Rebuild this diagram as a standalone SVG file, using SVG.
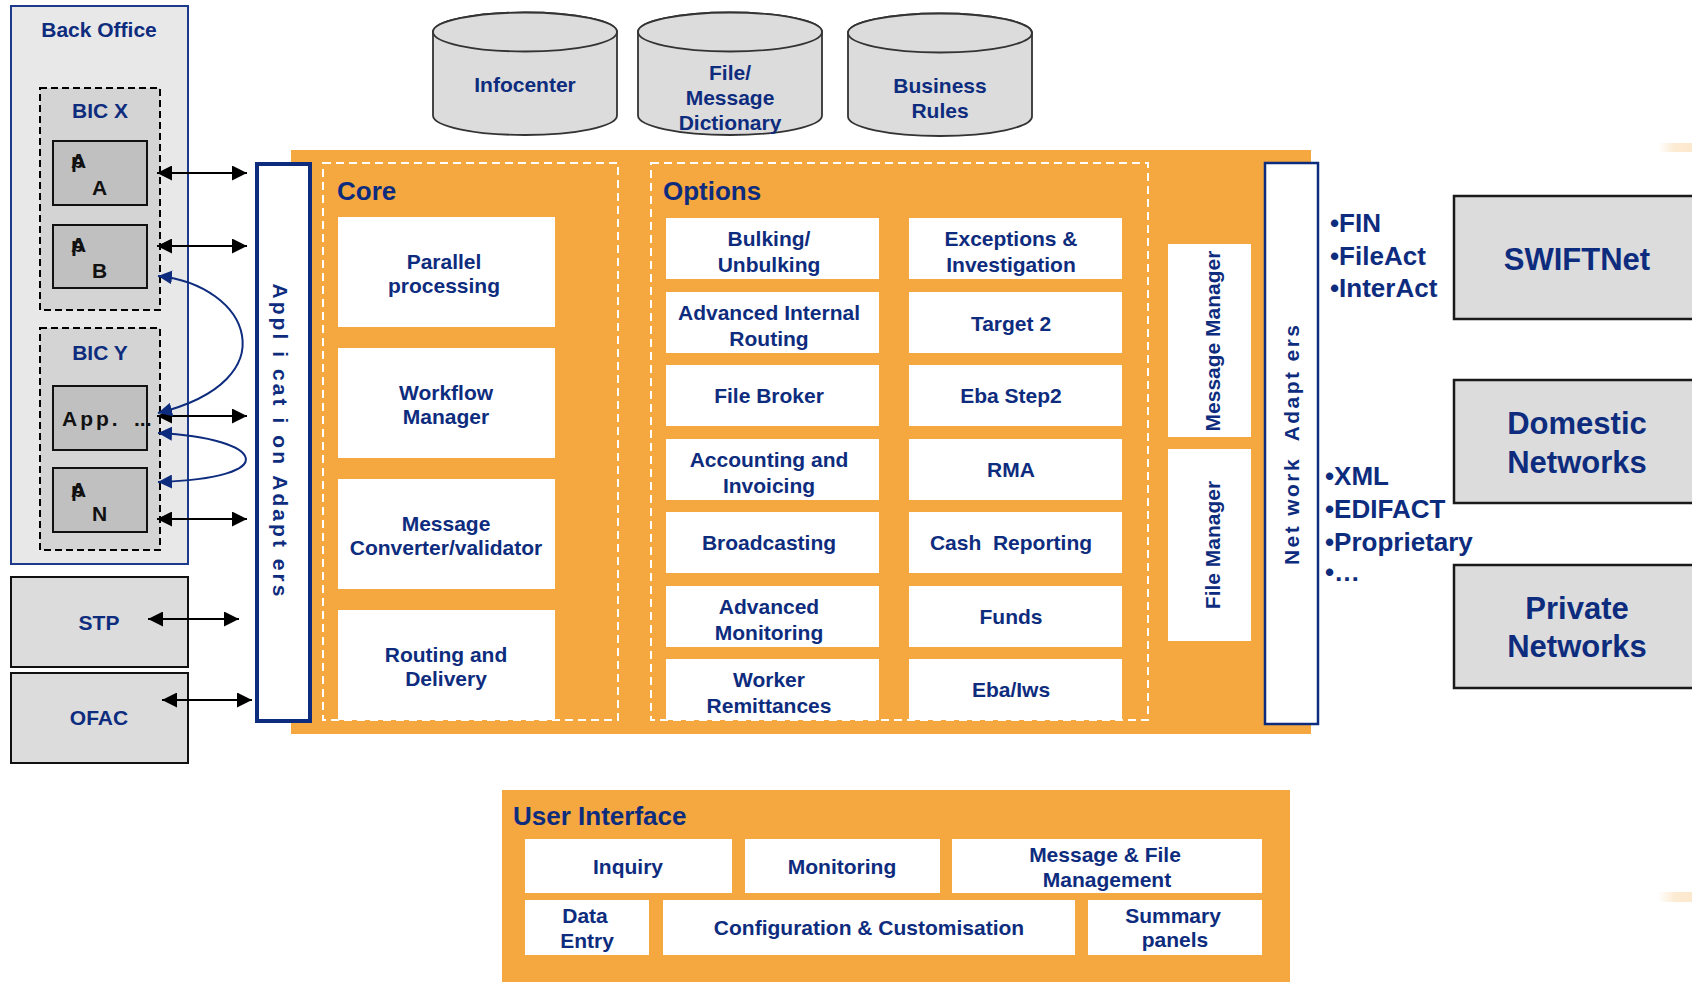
<svg xmlns="http://www.w3.org/2000/svg" width="1692" height="982" viewBox="0 0 1692 982">
<defs>
<style>
text{font-family:"Liberation Sans",Arial,sans-serif;font-weight:bold}
.n{fill:#0e2c7e;font-size:21px;text-anchor:middle}
.h{fill:#0e2c7e;font-size:26px}
.bl{fill:#0e2c7e;font-size:26px}
.big{fill:#0e2c7e;font-size:31px;text-anchor:middle}
.k{fill:#111;font-size:21px}
.w{fill:#fff}
.orange{fill:#f5a83f}
.net{fill:#dcdcdc;stroke:#1a1a1a;stroke-width:2.5}
.cyl{fill:#dcdcdc;stroke:#333;stroke-width:1.8}
.app{fill:#c0c0c0;stroke:#111;stroke-width:2}
.bic{fill:#d4d4d4;stroke:#000;stroke-width:2;stroke-dasharray:7 4}
.dash{fill:none;stroke:#fff;stroke-width:2;stroke-dasharray:8 5}
.arr{stroke:#000;stroke-width:2;fill:none;marker-start:url(#ah);marker-end:url(#ah)}
.barr{stroke:#0e2c7e;stroke-width:2;fill:none;marker-start:url(#bh);marker-end:url(#bh)}
</style>
<linearGradient id="glow" x1="0" y1="0" x2="1" y2="0">
<stop offset="0" stop-color="#fbe2c0" stop-opacity="0"/>
<stop offset="0.5" stop-color="#fbe2c0" stop-opacity="0.7"/>
<stop offset="1" stop-color="#fbe2c0" stop-opacity="0.8"/>
</linearGradient>
<marker id="ah" viewBox="0 0 10 10" refX="10" refY="5" markerWidth="15" markerHeight="15" markerUnits="userSpaceOnUse" orient="auto-start-reverse"><path d="M0,0 L10,5 L0,10 z" fill="#000"/></marker>
<marker id="bh" viewBox="0 0 10 10" refX="10" refY="5" markerWidth="14" markerHeight="14" markerUnits="userSpaceOnUse" orient="auto-start-reverse"><path d="M0,0 L10,5 L0,10 z" fill="#0e2c7e"/></marker>
</defs>
<rect width="1692" height="982" fill="#fff"/>
<rect x="1658" y="143" width="34" height="9" fill="url(#glow)"/>
<rect x="1658" y="892" width="34" height="10" fill="url(#glow)"/>

<!-- Databases -->
<g id="infocenter">
<path class="cyl" d="M433,32 V115.5 A92,19.5 0 0 0 617,115.5 V32 A92,19.5 0 0 0 433,32 z"/>
<ellipse class="cyl" cx="525" cy="32" rx="92" ry="19.5"/>
<text class="n" x="525" y="92">Infocenter</text>
</g>
<g id="dictionary">
<path class="cyl" d="M638,32 V115.5 A92,19.5 0 0 0 822,115.5 V32 A92,19.5 0 0 0 638,32 z"/>
<ellipse class="cyl" cx="730" cy="32" rx="92" ry="19.5"/>
<text class="n" x="730" y="80">File/</text>
<text class="n" x="730" y="105">Message</text>
<text class="n" x="730" y="130">Dictionary</text>
</g>
<g id="business-rules">
<path class="cyl" d="M848,33 V116.5 A92,19.5 0 0 0 1032,116.5 V33 A92,19.5 0 0 0 848,33 z"/>
<ellipse class="cyl" cx="940" cy="33" rx="92" ry="19.5"/>
<text class="n" x="940" y="93">Business</text>
<text class="n" x="940" y="118">Rules</text>
</g>

<!-- Back office -->
<g id="back-office">
<rect x="11" y="6" width="177" height="558" fill="#e8e8e8" stroke="#1b3a8c" stroke-width="2"/>
<text class="n" x="99" y="37">Back Office</text>
</g>
<g id="bic-x">
<rect class="bic" x="40" y="88" width="120" height="222"/>
<text class="n" x="100" y="118">BIC X</text>
</g>
<g id="app-a">
<rect class="app" x="53" y="141" width="94" height="64"/>
<text class="k" x="71" y="168">p</text><text class="k" x="71" y="168">A</text>
<text class="k" x="92" y="195">A</text>
</g>
<g id="app-b">
<rect class="app" x="53" y="225" width="94" height="63"/>
<text class="k" x="71" y="252">p</text><text class="k" x="71" y="252">A</text>
<text class="k" x="92" y="278">B</text>
</g>
<g id="bic-y">
<rect class="bic" x="40" y="328" width="120" height="222"/>
<text class="n" x="100" y="360">BIC Y</text>
</g>
<g id="app-dots">
<rect class="app" x="53" y="386" width="94" height="64"/>
<text class="k" x="62" y="426" letter-spacing="3">App.</text>
<text class="k" x="134" y="426">...</text>
</g>
<g id="app-n">
<rect class="app" x="53" y="468" width="94" height="64"/>
<text class="k" x="71" y="497">p</text><text class="k" x="71" y="497">A</text>
<text class="k" x="92" y="521">N</text>
</g>
<g id="stp">
<rect x="11" y="577" width="177" height="90" fill="#dcdcdc" stroke="#111" stroke-width="2"/>
<text class="n" x="99" y="630">STP</text>
</g>
<g id="ofac">
<rect x="11" y="673" width="177" height="90" fill="#dcdcdc" stroke="#111" stroke-width="2"/>
<text class="n" x="99" y="725">OFAC</text>
</g>

<!-- Main orange platform -->
<g id="platform">
<rect class="orange" x="291" y="150" width="1020" height="584"/>
</g>
<g id="application-adapters">
<rect x="257" y="164" width="53" height="557" fill="#fff" stroke="#0e2c7e" stroke-width="4"/>
<text class="n" transform="translate(273,440) rotate(90)" x="0" y="0" textLength="313" lengthAdjust="spacing" style="white-space:pre">Appl i cat i on Adapt ers</text>
</g>

<g id="core">
<rect class="dash" x="323" y="163" width="295" height="557"/>
<text class="h" x="337" y="200">Core</text>
<rect class="w" x="338" y="217" width="217" height="110"/>
<text class="n" x="444" y="269">Parallel</text>
<text class="n" x="444" y="293">processing</text>
<rect class="w" x="338" y="348" width="217" height="110"/>
<text class="n" x="446" y="400">Workflow</text>
<text class="n" x="446" y="424">Manager</text>
<rect class="w" x="338" y="479" width="217" height="110"/>
<text class="n" x="446" y="531">Message</text>
<text class="n" x="446" y="555">Converter/validator</text>
<rect class="w" x="338" y="610" width="217" height="110"/>
<text class="n" x="446" y="662">Routing and</text>
<text class="n" x="446" y="686">Delivery</text>
</g>

<g id="options">
<rect class="dash" x="651" y="163" width="497" height="557"/>
<text class="h" x="663" y="200">Options</text>
<g>
<rect class="w" x="666" y="218" width="213" height="61"/>
<text class="n" x="769" y="246">Bulking/</text>
<text class="n" x="769" y="272">Unbulking</text>
<rect class="w" x="666" y="292" width="213" height="61"/>
<text class="n" x="769" y="320">Advanced Internal</text>
<text class="n" x="769" y="346">Routing</text>
<rect class="w" x="666" y="365" width="213" height="61"/>
<text class="n" x="769" y="403">File Broker</text>
<rect class="w" x="666" y="439" width="213" height="61"/>
<text class="n" x="769" y="467">Accounting and</text>
<text class="n" x="769" y="493">Invoicing</text>
<rect class="w" x="666" y="512" width="213" height="61"/>
<text class="n" x="769" y="550">Broadcasting</text>
<rect class="w" x="666" y="586" width="213" height="61"/>
<text class="n" x="769" y="614">Advanced</text>
<text class="n" x="769" y="640">Monitoring</text>
<rect class="w" x="666" y="659" width="213" height="61"/>
<text class="n" x="769" y="687">Worker</text>
<text class="n" x="769" y="713">Remittances</text>
</g>
<g>
<rect class="w" x="909" y="218" width="213" height="61"/>
<text class="n" x="1011" y="246">Exceptions &amp;</text>
<text class="n" x="1011" y="272">Investigation</text>
<rect class="w" x="909" y="292" width="213" height="61"/>
<text class="n" x="1011" y="331">Target 2</text>
<rect class="w" x="909" y="365" width="213" height="61"/>
<text class="n" x="1011" y="403">Eba Step2</text>
<rect class="w" x="909" y="439" width="213" height="61"/>
<text class="n" x="1011" y="477">RMA</text>
<rect class="w" x="909" y="512" width="213" height="61"/>
<text class="n" x="1011" y="550" style="white-space:pre">Cash  Reporting</text>
<rect class="w" x="909" y="586" width="213" height="61"/>
<text class="n" x="1011" y="624">Funds</text>
<rect class="w" x="909" y="659" width="213" height="61"/>
<text class="n" x="1011" y="697">Eba/Iws</text>
</g>
</g>

<g id="message-manager">
<rect class="w" x="1168" y="244" width="83" height="193"/>
<text class="n" transform="translate(1220,341) rotate(-90)" x="0" y="0">Message Manager</text>
</g>
<g id="file-manager">
<rect class="w" x="1168" y="449" width="83" height="192"/>
<text class="n" transform="translate(1220,545) rotate(-90)" x="0" y="0">File Manager</text>
</g>

<g id="network-adapters">
<rect x="1265" y="163" width="53" height="561" fill="#fff" stroke="#0e2c7e" stroke-width="2.5"/>
<text class="n" transform="translate(1299,445) rotate(-90)" x="0" y="0" textLength="240" lengthAdjust="spacing" style="white-space:pre">Net work  Adapt ers</text>
</g>

<g id="protocols-swift">
<text class="bl" x="1330" y="232">•FIN</text>
<text class="bl" x="1330" y="265">•FileAct</text>
<text class="bl" x="1330" y="297">•InterAct</text>
</g>
<g id="protocols-other">
<text class="bl" x="1325" y="485">•XML</text>
<text class="bl" x="1325" y="518">•EDIFACT</text>
<text class="bl" x="1325" y="551">•Proprietary</text>
<text class="bl" x="1325" y="581">•…</text>
</g>

<g id="swiftnet">
<rect class="net" x="1454" y="196" width="260" height="123"/>
<text class="big" x="1577" y="270">SWIFTNet</text>
</g>
<g id="domestic-networks">
<rect class="net" x="1454" y="380" width="260" height="123"/>
<text class="big" x="1577" y="434">Domestic</text>
<text class="big" x="1577" y="473">Networks</text>
</g>
<g id="private-networks">
<rect class="net" x="1454" y="565" width="260" height="123"/>
<text class="big" x="1577" y="619">Private</text>
<text class="big" x="1577" y="657">Networks</text>
</g>

<g id="user-interface">
<rect class="orange" x="502" y="790" width="788" height="200"/>
<text class="h" x="513" y="825">User Interface</text>
<rect class="w" x="525" y="839" width="207" height="54"/>
<text class="n" x="628" y="874">Inquiry</text>
<rect class="w" x="745" y="839" width="195" height="54"/>
<text class="n" x="842" y="874">Monitoring</text>
<rect class="w" x="952" y="839" width="310" height="54"/>
<text class="n" x="1105" y="862">Message &amp; File</text>
<text class="n" x="1107" y="887">Management</text>
<rect class="w" x="525" y="900" width="124" height="55"/>
<text class="n" x="585" y="923">Data</text>
<text class="n" x="587" y="948">Entry</text>
<rect class="w" x="663" y="900" width="412" height="55"/>
<text class="n" x="869" y="935">Configuration &amp; Customisation</text>
<rect class="w" x="1088" y="900" width="174" height="55"/>
<text class="n" x="1173" y="923">Summary</text>
<text class="n" x="1175" y="947">panels</text>
</g>

<g id="connectors">
<line class="arr" x1="157" y1="173" x2="247" y2="173"/>
<line class="arr" x1="157" y1="246" x2="247" y2="246"/>
<line class="arr" x1="157" y1="416" x2="247" y2="416"/>
<line class="arr" x1="157" y1="519" x2="247" y2="519"/>
<line class="arr" x1="148" y1="619" x2="239" y2="619"/>
<line class="arr" x1="162" y1="700" x2="252" y2="700"/>
<path class="barr" d="M158,276 C250,285 290,380 158,413"/>
<path class="barr" d="M158,433 C265,438 285,478 158,482"/>
</g>
</svg>
